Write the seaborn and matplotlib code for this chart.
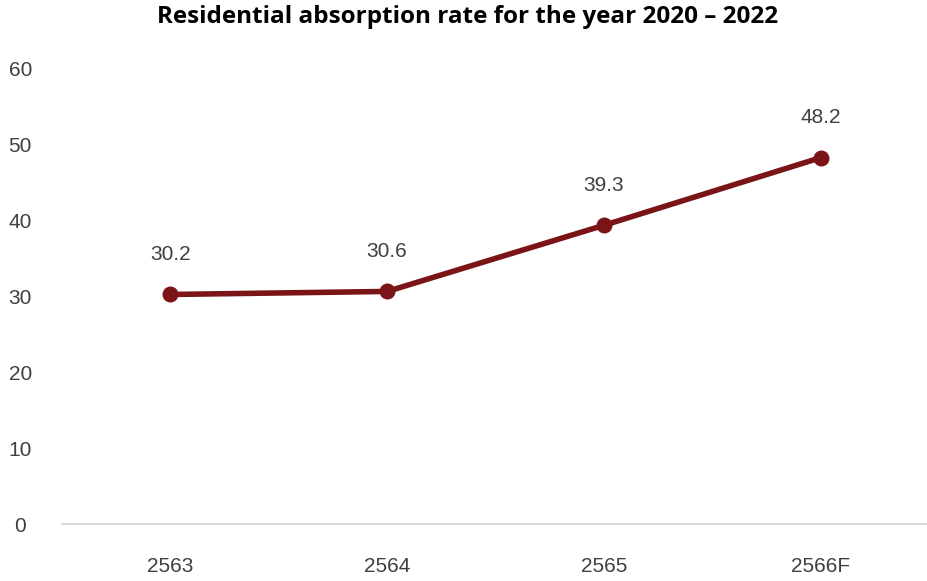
import matplotlib
matplotlib.use("Agg")
import matplotlib.pyplot as plt
import seaborn as sns
import pandas as pd

years = ["2563", "2564", "2565", "2566F"]
rates = [30.2, 30.6, 39.3, 48.2]
yticks = [0, 10, 20, 30, 40, 50, 60]

sns.set_theme(style="white")
plt.rcParams['font.family'] = ['Liberation Sans', 'DejaVu Sans']

df = pd.DataFrame({"year": years, "rate": rates})

fig = plt.figure(figsize=(9.28, 5.81), dpi=100)
ax = fig.add_axes([62/928, 1-524/581, (929-62)/928, (524-68)/581])

color = "#7A1416"
sns.lineplot(data=df, x="year", y="rate", ax=ax, color=color, linewidth=4,
             marker="o", markersize=11.5, markeredgewidth=0, sort=False)

for i, (yr, v) in enumerate(zip(years, rates)):
    ax.annotate(f"{v:.1f}", (i, v), xytext=(0, 29), textcoords="offset points",
                ha="center", va="center", fontsize=15, color="#404040")

ax.set_xlim(-0.5, 3.5)
ax.set_ylim(0, 60)
ax.set_yticks(yticks)
ax.set_yticklabels([str(t) for t in yticks])
ax.set_xlabel("")
ax.set_ylabel("")
for s in ["top", "right", "left"]:
    ax.spines[s].set_visible(False)
ax.spines["bottom"].set_color("#d9d9d9")
ax.spines["bottom"].set_linewidth(1.5)
ax.tick_params(axis="x", length=0, pad=24, labelsize=15, labelcolor="#404040")
ax.tick_params(axis="y", length=0, pad=30, labelsize=15, labelcolor="#404040")
for lab in ax.get_yticklabels():
    lab.set_horizontalalignment("center")
ax.grid(False)

fig.text(468/928, 1-17/581, "Residential absorption rate for the year 2020 \u2013 2022",
         ha="center", va="center", fontsize=17.5, fontweight="bold",
         family=["Open Sans", "DejaVu Sans"], color="black")

fig.savefig("out.png", dpi=100)
